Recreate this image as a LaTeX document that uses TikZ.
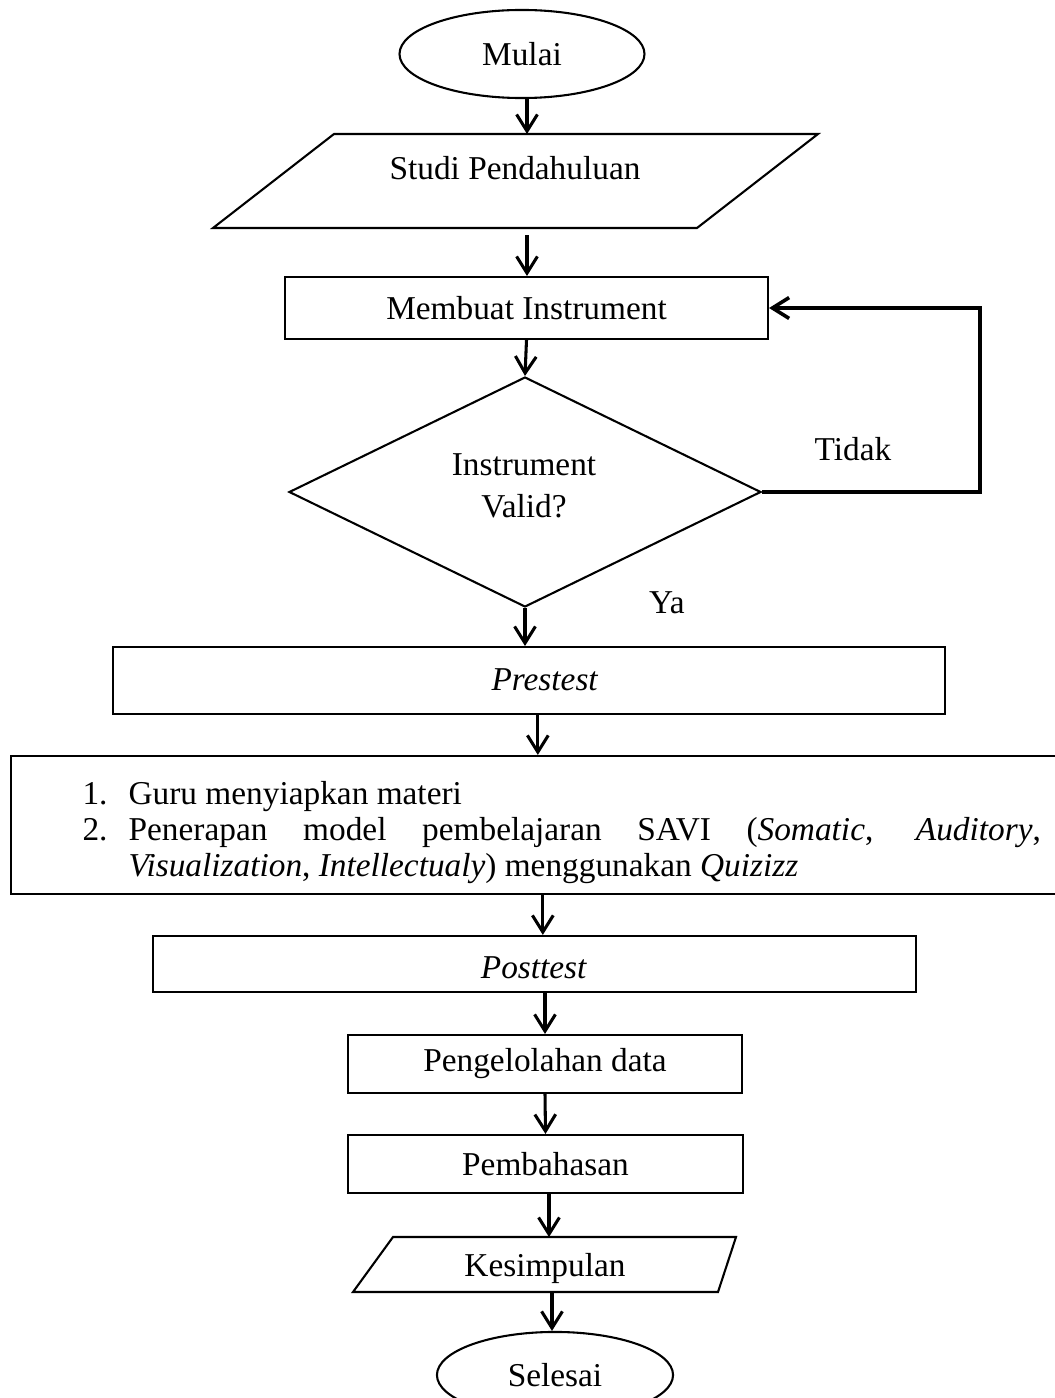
\documentclass[tikz,border=0pt]{standalone}
\usepackage{fontspec}
\setmainfont{Liberation Serif}
\usetikzlibrary{shapes.geometric,arrows.meta}

\tikzset{
  kotak/.style={draw, line width=0.75pt, rectangle, inner sep=0pt},
  terminal/.style={draw, line width=0.75pt, ellipse, inner sep=0pt},
  keputusan/.style={draw, line width=0.75pt, diamond, inner sep=0pt, align=center},
  panah/.style={line width=1.1pt, -{Straight Barb[length=6pt,width=7.5pt]}},
  teks/.style={inner sep=0pt}
}

\begin{document}
\begin{tikzpicture}[x=0.36pt, y=-0.36pt, font=\fontsize{12}{13}\selectfont]

\useasboundingbox (0,0) rectangle (1055,1398);

\node[terminal, minimum width=88.2pt, minimum height=31.7pt] (mulai) at (522,54) {Mulai};

\draw[line width=0.75pt] (334,134) -- (818,134) -- (697,228) -- (213,228) -- cycle;
\node[teks] (studi) at (515,168) {Studi Pendahuluan};
\coordinate (studi-atas) at (527,134);
\coordinate (studi-bawah) at (527,235);

\node[kotak, minimum width=173.9pt, minimum height=22.3pt] (membuat) at (526.5,308) {Membuat Instrument};

\node[keputusan, minimum width=169.9pt, minimum height=82.8pt] (cek) at (525,492) {};
\node[teks, align=center, font=\fontsize{12}{15}\selectfont] (cek-teks) at (524,486) {Instrument\\Valid?};
\coordinate (balik) at (980,492);
\node[teks] (tidak) at (853,449) {Tidak};
\node[teks] (ya) at (667,603) {Ya};

\node[kotak, minimum width=299.5pt, minimum height=24.1pt] (prestest) at (529,680.5) {};
\node[teks] (prestest-teks) at (545,680) {\textit{Prestest}};

% kotak langkah pembelajaran
\node[kotak, minimum width=377pt, minimum height=49.7pt] (proses) at (534.5,825) {};
\node[teks, anchor=north west, text width=345pt, align=justify] (isi) at (82,781) {%
\parindent=0pt \hyphenpenalty=10000 \tolerance=10000
\makebox[16.6pt][l]{1.}Guru menyiapkan materi\par
\hangindent=16.6pt \hangafter=1
\makebox[16.6pt][l]{2.}Penerapan model pembelajaran SAVI (\textit{Somatic}, \textit{Auditory}, \textit{Visualization}, \textit{Intellectualy}) menggunakan \textit{Quizizz}\par};

\node[kotak, minimum width=274.7pt, minimum height=20.2pt] (posttest) at (534.5,964) {};
\node[teks] (posttest-teks) at (534,968) {\textit{Posttest}};
\node[kotak, minimum width=141.8pt, minimum height=20.9pt] (olah) at (545,1064) {Pengelolahan data};
\node[kotak, minimum width=142.2pt, minimum height=20.9pt] (bahas) at (545.5,1164) {Pembahasan};

\draw[line width=0.75pt] (393,1237) -- (736,1237) -- (718,1292) -- (353,1292) -- cycle;
\node[teks] (simpul) at (545,1268) {Kesimpulan};
\coordinate (simpul-atas) at (549,1237);
\coordinate (simpul-bawah) at (552,1292);

\node[terminal, minimum width=85pt, minimum height=31pt] (selesai) at (555,1375) {Selesai};

% panah
\draw[panah] (mulai.south -| studi-atas) -- (studi-atas);
\draw[panah] (studi-bawah) -- (studi-bawah |- membuat.north);
\draw[panah] (membuat.south) -- (cek.north);
\draw[panah] (cek.south) -- (cek.south |- prestest.north);
\draw[panah] ([xshift=1.2pt]prestest.south -| proses.north) -- ([xshift=1.2pt]proses.north);
\draw[panah] ([xshift=3pt]proses.south) -- ([xshift=3pt]posttest.north);
\draw[panah] (olah.north |- posttest.south) -- (olah.north);
\draw[panah] (olah.south) -- (bahas.north);
\draw[panah] (bahas.south -| simpul-atas) -- (simpul-atas);
\draw[panah] (simpul-bawah) -- (simpul-bawah |- selesai.north);
\draw[panah, line width=1.3pt] (cek.east) -- (balik) |- (membuat.east);

\end{tikzpicture}
\end{document}
